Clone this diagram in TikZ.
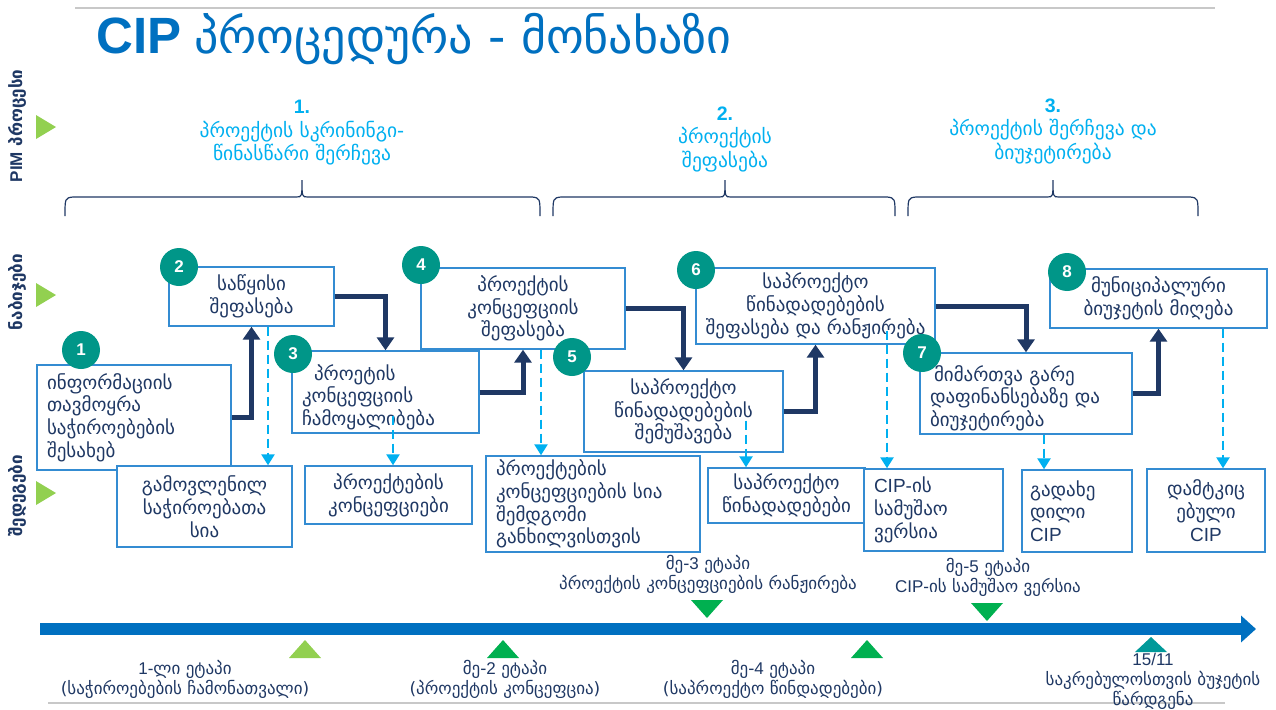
\documentclass[tikz,border=0pt]{standalone}
\usepackage{fontspec}
\setmainfont{DejaVu Sans}
\newfontfamily\arialfont{Liberation Sans}
\usetikzlibrary{arrows.meta}
\definecolor{titleblue}{RGB}{0,112,192}
\definecolor{headcyan}{RGB}{0,176,240}
\definecolor{navy}{RGB}{31,56,100}
\definecolor{boxblue}{RGB}{52,140,210}
\definecolor{numteal}{RGB}{0,150,136}
\definecolor{lgreen}{RGB}{146,208,80}
\definecolor{dgreen}{RGB}{0,176,80}
\definecolor{markteal}{RGB}{0,153,153}
\definecolor{rulegray}{RGB}{200,200,200}

\begin{document}
\begin{tikzpicture}[
		x=1pt, y=-1pt,
		stepbox/.style={draw=boxblue, line width=1.4pt, fill=white, text=navy, inner xsep=10pt, inner ysep=2pt, font=\fontsize{19}{22.7}\selectfont},
		num/.style={circle, fill=numteal, text=white, minimum size=38pt, inner sep=0pt, font=\arialfont\bfseries\fontsize{17}{17}\selectfont},
		flow/.style={draw=navy, line width=5pt, -{Triangle[length=13pt,width=17pt]}},
		resultarrow/.style={draw=headcyan, line width=2.5pt, dash pattern=on 9pt off 5pt, -{Triangle[length=11pt,width=13pt]}},
		phase/.style={text=headcyan, align=center, font=\fontsize{19.5}{23.5}\selectfont},
		rowlabel/.style={rotate=90, text=navy, font=\bfseries\fontsize{17}{17}\selectfont},
		mile/.style={text=navy, align=center, font=\fontsize{17}{20}\selectfont},
		bracket/.style={draw=navy, line width=1.2pt}
		]
		\fill[white] (0,0) rectangle (1276,709);
		\useasboundingbox (0,0) rectangle (1276,709);
		\draw[rulegray, line width=1.2pt] (75,8) -- (1215,8);
		\node[anchor=west, text=titleblue, inner sep=0pt] (title) at (96,39)
			{{\arialfont\bfseries\fontsize{51}{54}\selectfont CIP}\hspace{13pt}{\fontsize{48}{54}\selectfont პროცედურა - მონახაზი}};
		
		% row labels
		\node[rowlabel] (pim) at (17,126) {{\arialfont PIM} პროცესი};
		\node[rowlabel] (steps) at (17,292) {ნაბიჯები};
		\node[rowlabel] (results) at (17,496) {შედეგები};
		\foreach \y in {127,295,493}
			\fill[lgreen] (36,\y-12) -- (56,\y) -- (36,\y+12) -- cycle;
		
		% phases
		\node[phase] (ph1) at (302,133) {{\arialfont\bfseries 1.}\\პროექტის სკრინინგი-\\წინასწარი შერჩევა};
		\node[phase] (ph2) at (725,139) {{\arialfont\bfseries 2.}\\პროექტის\\შეფასება};
		\node[phase] (ph3) at (1053,131) {{\arialfont\bfseries 3.}\\პროექტის შერჩევა და\\ბიუჯეტირება};
		\foreach \a/\m/\b in {65/302/540, 553/725/895, 908/1053/1198}
			\draw[bracket] (\a,216) .. controls (\a,198) .. (\a+8,197) -- (\m-6,197)
				.. controls (\m,197) .. (\m,180) .. controls (\m,197) .. (\m+6,197)
				-- (\b-8,197) .. controls (\b,198) .. (\b,216);
		
		% steps
		\node[stepbox, minimum width=194pt, minimum height=105pt, text width=174pt, align=left] (s1) at (134,417.5)
			{ინფორმაციის\\თავმოყრა\\საჭიროებების\\შესახებ};
		\node[stepbox, minimum width=165pt, minimum height=59pt, align=center] (s2) at (251.5,296.5)
			{საწყისი\\შეფასება};
		\node[stepbox, minimum width=187pt, minimum height=82pt, text width=167pt, align=left] (s3) at (385.5,392)
			{\rule{0pt}{26pt}\hspace*{12pt}პროეტის\\კონცეფციის\\ჩამოყალიბება};
		\node[stepbox, minimum width=204pt, minimum height=81pt, align=center] (s4) at (523,308.5)
			{პროექტის\\კონცეფციის\\შეფასება};
		\node[stepbox, minimum width=199pt, minimum height=81pt, align=center] (s5) at (683.5,411.5)
			{საპროექტო\\წინადადებების\\შემუშავება};
		\node[stepbox, minimum width=239pt, minimum height=76pt, inner xsep=2pt, align=center] (s6) at (815.5,306)
			{საპროექტო\\წინადადებების\\შეფასება და რანჟირება};
		\node[stepbox, minimum width=212pt, minimum height=81pt, text width=192pt, align=left] (s7) at (1026,393.5)
			{\rule{0pt}{25pt}\hspace*{4pt}მიმართვა გარე\\დაფინანსებაზე და\\ბიუჯეტირება};
		\node[stepbox, minimum width=217pt, minimum height=59pt, align=center] (s8) at (1158.5,298.5)
			{მუნიციპალური\\ბიუჯეტის მიღება};
		
		% results
		\node[stepbox, minimum width=175pt, minimum height=81pt, align=center] (r1) at (204.5,506.5)
			{გამოვლენილ\\საჭიროებათა\\სია};
		\node[stepbox, minimum width=167pt, minimum height=58pt, align=center] (r2) at (388.5,495)
			{პროექტების\\კონცეფციები};
		\node[stepbox, minimum width=214pt, minimum height=96pt, text width=194pt, align=left] (r3) at (593,504)
			{პროექტების\\კონცეფციების სია\\შემდგომი\\განხილვისთვის};
		\node[stepbox, minimum width=157pt, minimum height=55pt, inner xsep=2pt, align=center] (r4) at (786.5,495.5)
			{საპროექტო\\წინადადებები};
		\node[stepbox, minimum width=139pt, minimum height=82pt, text width=119pt, align=left] (r5) at (933.5,510)
			{{\arialfont CIP-}ის\\სამუშაო\\ვერსია};
		\node[stepbox, minimum width=110pt, minimum height=82pt, text width=94pt, inner xsep=8pt, align=left] (r6) at (1077,511)
			{გადახე\\დილი\\{\arialfont CIP}};
		\node[stepbox, minimum width=118pt, minimum height=83pt, align=center] (r7) at (1206,510.5)
			{დამტკიც\\ებული\\{\arialfont CIP}};
		
		\draw[flow] (s1.east) -| (s2.south);
		\draw[flow] (s2.east) -| (s3.north);
		\draw[flow] (s3.east) -| (s4.south);
		\draw[flow] (s4.east) -| (s5.north);
		\draw[flow] (s5.east) -| (s6.south);
		\draw[flow] (s6.east) -| (s7.north);
		\draw[flow] (s7.east) -| (s8.south);
		
		\draw[resultarrow] ([xshift=16.5pt]s2.south) -- ([xshift=16.5pt]s2.south |- r1.north);
		\draw[resultarrow] ([xshift=7.5pt,yshift=18pt]s3.south) -- ([xshift=7.5pt]s3.south |- r2.north);
		\draw[resultarrow] ([xshift=18pt]s4.south) -- ([xshift=18pt]s4.south |- r3.north);
		\draw[resultarrow] ([xshift=62.5pt,yshift=32pt]s5.south) -- ([xshift=62.5pt]s5.south |- r4.north);
		\draw[resultarrow] ([xshift=71.5pt,yshift=14pt]s6.south) -- ([xshift=71.5pt]s6.south |- r5.north);
		\draw[resultarrow] ([xshift=18pt]s7.south) -- ([xshift=18pt]s7.south |- r6.north);
		\draw[resultarrow] ([xshift=64.5pt]s8.south) -- ([xshift=64.5pt]s8.south |- r7.north);
		
		\node[num] (c1) at (81,350) {1};
		\node[num] (c2) at (179,267) {2};
		\node[num] (c3) at (293,354) {3};
		\node[num] (c4) at (421,265) {4};
		\node[num] (c5) at (572,357) {5};
		\node[num] (c6) at (696,270) {6};
		\node[num] (c7) at (922,353) {7};
		\node[num] (c8) at (1067,272) {8};
		
		% timeline
		\coordinate (tlstart) at (40,629);
		\coordinate (tlend) at (1256,629);
		\draw[titleblue, line width=12pt, -{Triangle[length=15pt,width=26pt]}] (tlstart) -- (tlend);
		\foreach \x/\c in {305/lgreen, 503/dgreen, 867/dgreen}
			\fill[\c] (\x-16,658) -- (\x+16,658) -- (\x,640) -- cycle;
		\fill[markteal] (1135,652) -- (1167,652) -- (1151,637) -- cycle;
		\foreach \x/\y in {707/600, 987/603}
			\fill[dgreen] (\x-16,\y) -- (\x+16,\y) -- (\x,\y+18) -- cycle;
		\draw[rulegray, line width=1.2pt] (48,703) -- (1225,703);
		\node[mile] (m1) at (185,679) {{\arialfont 1-}ლი ეტაპი\\(საჭიროებების ჩამონათვალი)};
		\node[mile] (m2) at (505,679) {მე-{\arialfont 2} ეტაპი\\(პროექტის კონცეფცია)};
		\node[mile] (m3) at (708,574) {მე-{\arialfont 3} ეტაპი\\პროექტის კონცეფციების რანჟირება};
		\node[mile] (m4) at (773,679) {მე-{\arialfont 4} ეტაპი\\(საპროექტო წინდადებები)};
		\node[mile] (m5) at (988,577) {მე-{\arialfont 5} ეტაპი\\{\arialfont CIP-}ის სამუშაო ვერსია};
		\node[mile] (m6) at (1153,681) {{\arialfont 15/11}\\საკრებულოსთვის ბუჯეტის\\წარდგენა};
\end{tikzpicture}
\end{document}
